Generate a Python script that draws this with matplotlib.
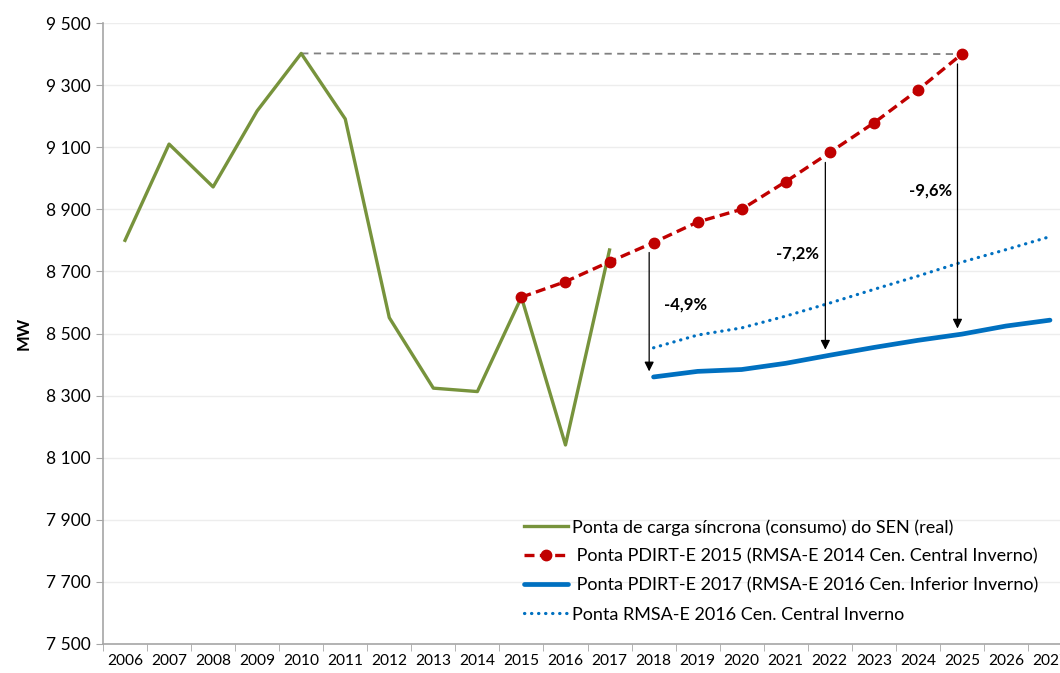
import matplotlib.pyplot as plt
from matplotlib.ticker import FuncFormatter

plt.rcParams['font.family'] = ['Lato', 'DejaVu Sans']

years = [str(y) for y in range(2006, 2028)]

# real peak load 2006-2017
real_years = list(range(2006, 2018))
real_mw = [8800, 9110, 8972, 9217, 9402, 9191, 8551, 8324, 8313, 8617, 8141, 8769]

# PDIRT-E 2015 forecast 2015-2025
pdirt15_years = list(range(2015, 2026))
pdirt15_mw = [8617, 8667, 8731, 8793, 8859, 8900, 8989, 9083, 9178, 9284, 9400]

# PDIRT-E 2017 forecast 2018-2027
pdirt17_years = list(range(2018, 2028))
pdirt17_mw = [8360, 8378, 8384, 8404, 8430, 8455, 8478, 8498, 8524, 8543]

# RMSA-E 2016 central 2018-2027
rmsa_years = list(range(2018, 2028))
rmsa_mw = [8454, 8495, 8518, 8556, 8598, 8642, 8685, 8730, 8770, 8812]

# reduction arrows
gap_years = [2018, 2022, 2025]
gap_labels = ['-4,9%', '-7,2%', '-9,6%']
gap_label_pos = [(12.72, 8592), (15.26, 8759), (18.3, 8959)]


def idx(ys):
    return [y - 2006 for y in ys]


fig = plt.figure(figsize=(10.6, 6.73), dpi=100)
ax = fig.add_axes([103 / 1060, 29 / 673, 969 / 1060, 621 / 673])

ax.plot(idx(real_years), real_mw, color='#77933C', lw=2.4,
        label='Ponta de carga síncrona (consumo) do SEN (real)', zorder=3)
ax.plot(idx(pdirt15_years), pdirt15_mw, color='#C00000', lw=2.4,
        ls=(0, (3, 1.6)), marker='o', markersize=7.5,
        label=' Ponta PDIRT-E 2015 (RMSA-E 2014 Cen. Central Inverno)', zorder=4)
ax.plot(idx(pdirt17_years), pdirt17_mw, color='#0070C0', lw=3.4,
        solid_capstyle='round',
        label=' Ponta PDIRT-E 2017 (RMSA-E 2016 Cen. Inferior Inverno)', zorder=3)
ax.plot(idx(rmsa_years), rmsa_mw, color='#0070C0', lw=2.3,
        ls=(0, (0.1, 2.1)), dash_capstyle='round',
        label='Ponta RMSA-E 2016 Cen. Central Inverno', zorder=3)

# gray dashed reference line from 2010 peak to 2025
ax.plot([2010 - 2006, 2025 - 2006], [real_mw[4], pdirt15_mw[-1]],
        color='#808080', lw=1.3, ls=(0, (4, 3)), zorder=2)

for yr, lab, pos in zip(gap_years, gap_labels, gap_label_pos):
    top = pdirt15_mw[pdirt15_years.index(yr)] - 32
    bot = pdirt17_mw[pdirt17_years.index(yr)] + 18
    x = yr - 2006 - 0.1
    ax.annotate('', xy=(x, bot), xytext=(x, top),
                arrowprops=dict(arrowstyle='-|>', color='black', lw=0.9,
                                mutation_scale=14, shrinkA=0, shrinkB=0),
                zorder=5)
    ax.text(pos[0], pos[1], lab, ha='center', va='center',
            fontsize=12, fontweight='bold')

ax.set_xlim(-0.5, 21.5)
ax.set_ylim(7500, 9500)
ax.set_yticks(range(7500, 9501, 200))
ax.yaxis.set_major_formatter(FuncFormatter(lambda v, p: f'{int(v):,}'.replace(',', ' ')))
ax.set_xticks(range(len(years)))
ax.set_xticklabels(years)
ax.set_xticks([i - 0.5 for i in range(len(years) + 1)], minor=True)
ax.tick_params(axis='x', which='major', length=0, pad=7, labelsize=11.2)
ax.tick_params(axis='x', which='minor', length=5, color='#A6A6A6')
ax.tick_params(axis='y', length=5, color='#A6A6A6', labelsize=12.5, pad=4)

ax.grid(axis='y', color='#EDEDED', lw=1)
ax.set_axisbelow(True)
for s in ['top', 'right']:
    ax.spines[s].set_visible(False)
for s in ['left', 'bottom']:
    ax.spines[s].set_color('#A6A6A6')
    ax.spines[s].set_linewidth(1.2)

ax.set_ylabel('MW', fontsize=12, fontweight='bold', labelpad=10)

ax.legend(loc='upper left', bbox_to_anchor=(524 / 1060, 1 - 519 / 673),
          bbox_transform=fig.transFigure, frameon=False, fontsize=13,
          handlelength=2.45, handletextpad=0.2, labelspacing=0.72,
          borderaxespad=0, borderpad=0)

fig.savefig('out.png', dpi=100)
